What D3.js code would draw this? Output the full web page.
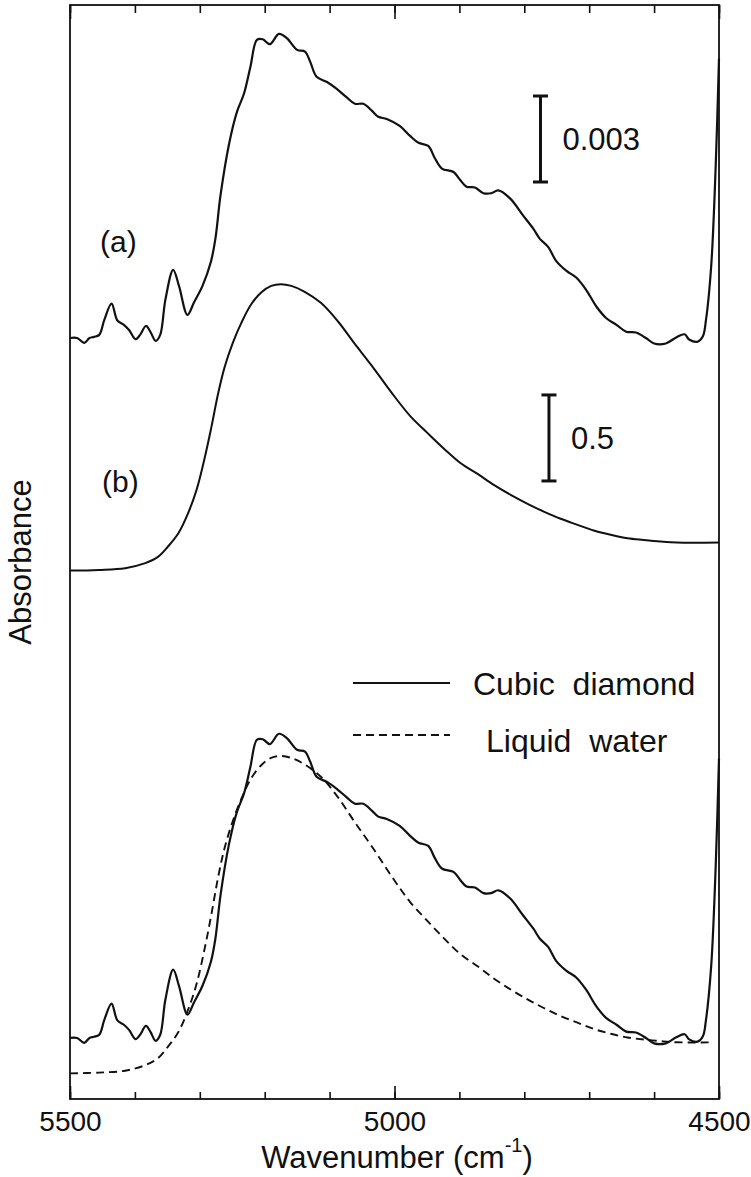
<!DOCTYPE html>
<html>
<head>
<meta charset="utf-8">
<script src="https://cdn.jsdelivr.net/npm/d3@7"></script>
<style>
body { margin: 0; background: #fff; }
svg { display: block; font-family: "Liberation Sans", Arial, Helvetica, sans-serif; }
</style>
</head>
<body>
<svg id="chart" width="751" height="1177"></svg>
<script>

// cubic diamond spectrum, absorbance in units of 1e-3
var diamondWn = [5500,5489,5478,5470,5463,5455,5447,5436,5427,5417,5409,5399,5392,5383,5376,5368,5361,5353,5341,5332,
    5319,5309,5296,5283,5276,5268,5255,5243,5232,5222,5212,5203,5192,5178,5166,5150,5138,5130,5120,5104,
    5089,5074,5061,5048,5035,5025,5012,4992,4976,4963,4948,4938,4927,4909,4899,4889,4876,4863,4851,4840,
    4822,4802,4786,4776,4763,4751,4735,4720,4705,4689,4674,4658,4643,4628,4612,4600,4582,4566,4553,4546,
    4533,4525,4520,4512,4505,4500];
var diamondAbs = [0.00,0.00,-0.17,0.00,0.04,0.11,0.64,1.20,0.61,0.46,0.28,-0.04,0.11,0.42,0.21,-0.10,0.11,1.34,2.38,1.81,
    0.81,1.24,1.81,2.65,3.46,4.99,6.76,7.87,8.52,9.46,10.40,10.42,10.25,10.61,10.46,10.05,9.99,9.64,9.11,8.93,
    8.69,8.40,8.17,8.17,7.93,7.72,7.64,7.40,7.05,6.81,6.70,6.28,5.91,5.79,5.52,5.28,5.25,5.05,5.05,5.15,
    4.87,4.28,3.81,3.46,3.17,2.69,2.34,2.11,1.69,1.10,0.70,0.46,0.22,0.19,-0.01,-0.19,-0.19,0.02,0.13,-0.05,
    -0.13,0.05,0.64,2.52,6.05,9.75];

// liquid water spectrum, absorbance
var waterWn = [5500,5456,5415,5384,5364,5349,5333,5318,5305,5292,5282,5272,5262,5249,5236,5221,5205,5190,5175,5159,
    5139,5113,5087,5062,5036,5000,4975,4949,4923,4898,4872,4847,4821,4795,4770,4744,4718,4693,4667,4641,
    4616,4590,4565,4500];
var waterAbs = [0,0.004,0.014,0.043,0.081,0.140,0.217,0.334,0.469,0.663,0.837,1.025,1.180,1.325,1.440,1.547,1.618,1.655,1.665,1.655,
    1.622,1.555,1.448,1.322,1.196,1.012,0.895,0.799,0.706,0.624,0.562,0.498,0.440,0.388,0.343,0.301,0.266,0.233,0.208,0.188,
    0.178,0.169,0.163,0.163];

var minorTicks = d3.range(5500, 4499, -100);
var majorTicks = [5500, 5000, 4500];
var legendLabels = ["Cubic  diamond", "Liquid  water"];

// stacking: offsets in plot units, diamond 0.003 = 0.5 plot units
var dScale = 0.5 / 3;
var fitEnd = 4510;

var svg = d3.select("#chart");

var x = d3.scaleLinear().domain([5500, 4500]).range([70, 719]);
var y = d3.scaleLinear().domain([0, 6.36]).range([1099, 5]);

function series(wn, vals, offset, k){
    return wn.map(function(w, i){ return { wn: w, v: offset + k * vals[i] }; });
}

var line = d3.line()
    .x(function(d){ return x(d.wn); })
    .y(function(d){ return y(d.v); })
    .curve(d3.curveCatmullRom.alpha(0.5));

svg.append("clipPath").attr("id", "fitclip")
  .append("rect")
    .attr("x", x(5500)).attr("y", 0)
    .attr("width", x(fitEnd) - x(5500)).attr("height", 1177);

// (a)
svg.append("path")
    .datum(series(diamondWn, diamondAbs, 4.424, dScale))
    .attr("d", line).attr("fill", "none").attr("stroke", "#111").attr("stroke-width", 2.2);

// (b)
svg.append("path")
    .datum(series(waterWn, waterAbs, 3.072, 1))
    .attr("d", line).attr("fill", "none").attr("stroke", "#111").attr("stroke-width", 2);

// bottom: diamond vs water
svg.append("path")
    .datum(series(diamondWn, diamondAbs, 0.355, dScale))
    .attr("d", line).attr("fill", "none").attr("stroke", "#111").attr("stroke-width", 2.2);

svg.append("path")
    .datum(series(waterWn, waterAbs, 0.149, 1.108))
    .attr("d", line).attr("fill", "none").attr("stroke", "#111").attr("stroke-width", 1.9)
    .attr("stroke-dasharray", "8,5")
    .attr("clip-path", "url(#fitclip)");

// frame
svg.append("rect")
    .attr("x", x(5500)).attr("y", y(6.36))
    .attr("width", x(4500) - x(5500)).attr("height", y(0) - y(6.36))
    .attr("fill", "none").attr("stroke", "#111").attr("stroke-width", 1.8);

// axes
var botAxis = svg.append("g").attr("transform", "translate(0," + y(0) + ")");
botAxis.append("g").call(d3.axisBottom(x).tickValues(minorTicks).tickSize(-7).tickFormat(""));
botAxis.append("g").call(d3.axisBottom(x).tickValues(majorTicks).tickSize(-13).tickPadding(12)
    .tickFormat(d3.format("d")));
botAxis.selectAll(".domain").remove();
botAxis.selectAll("line").attr("stroke", "#111").attr("stroke-width", 1.6);
botAxis.selectAll("text").attr("font-size", 28).attr("fill", "#111").attr("font-family", null);

var topAxis = svg.append("g").attr("transform", "translate(0," + y(6.36) + ")");
topAxis.append("g").call(d3.axisTop(x).tickValues(minorTicks).tickSize(-8).tickFormat(""));
topAxis.append("g").call(d3.axisTop(x).tickValues(majorTicks).tickSize(-14).tickFormat(""));
topAxis.selectAll(".domain").remove();
topAxis.selectAll("line").attr("stroke", "#111").attr("stroke-width", 1.6);

// axis titles
var xt = svg.append("text")
    .attr("x", 397).attr("y", 1168)
    .attr("text-anchor", "middle").attr("font-size", 31).attr("fill", "#111");
xt.append("tspan").text("Wavenumber (cm");
xt.append("tspan").attr("dy", -16).attr("font-size", 20).text("-1");
xt.append("tspan").attr("dy", 16).text(")");

svg.append("text")
    .attr("transform", "translate(31,562) rotate(-90)")
    .attr("text-anchor", "middle").attr("font-size", 31).attr("fill", "#111")
    .text("Absorbance");

// trace labels
svg.append("text").attr("x", 100).attr("y", 252).attr("font-size", 30).attr("fill", "#111").text("(a)");
svg.append("text").attr("x", 102).attr("y", 492).attr("font-size", 30).attr("fill", "#111").text("(b)");

// scale bars
function scaleBar(wn, v0, len, label){
    var g = svg.append("g").attr("stroke", "#111").attr("stroke-width", 3);
    g.append("line").attr("x1", x(wn)).attr("x2", x(wn)).attr("y1", y(v0)).attr("y2", y(v0 + len));
    [v0, v0 + len].forEach(function(v){
        g.append("line").attr("x1", x(wn) - 7.5).attr("x2", x(wn) + 7.5).attr("y1", y(v)).attr("y2", y(v));
    });
    svg.append("text")
        .attr("x", x(wn) + 22).attr("y", y(v0 + len / 2) + 11)
        .attr("font-size", 31).attr("fill", "#111").text(label);
}
scaleBar(4775, 5.331, 3 * dScale, "0.003");
scaleBar(4762, 3.593, 0.5, "0.5");

// legend
var leg = svg.append("g");
legendLabels.forEach(function(lab, i){
    var ly = 683 + i * 52;
    leg.append("line")
        .attr("x1", 353).attr("x2", 450).attr("y1", ly).attr("y2", ly)
        .attr("stroke", "#111").attr("stroke-width", i ? 1.8 : 2)
        .attr("stroke-dasharray", i ? "8,5" : null);
    leg.append("text")
        .attr("x", i ? 486 : 473).attr("y", ly + 12 + i * 5)
        .attr("font-size", 32).attr("fill", "#111")
        .style("white-space", "pre")
        .text(lab);
});

</script>
</body>
</html>
